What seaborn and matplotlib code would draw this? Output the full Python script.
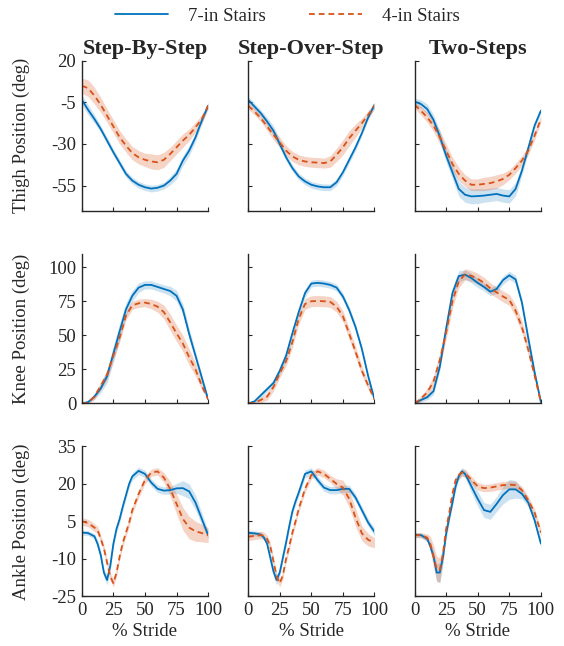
import numpy as np
import pandas as pd
import matplotlib
matplotlib.use("Agg")
import matplotlib.pyplot as plt
import seaborn as sns

# % stride sample points
stride = list(range(0, 101, 5))
stride_ankle = [0, 5, 10, 12.5, 15, 17.5, 20, 22.5, 25, 27.5, 30, 32.5, 35, 37.5, 40,
                45, 50, 55, 60, 65, 70, 75, 80, 85, 90, 95, 100]

conditions = ["Step-By-Step", "Step-Over-Step", "Two-Steps"]
joints = ["Thigh Position (deg)", "Knee Position (deg)", "Ankle Position (deg)"]
stairs = ["7-in Stairs", "4-in Stairs"]

# thigh (mean / band half-width)
thigh_sbs_7 = [-3.5, -9.5, -15, -21, -28, -35, -41.5, -48, -52, -54.5, -56, -56.8, -56.3, -55, -52, -48, -40, -34, -26, -16, -7]
thigh_sbs_7_sd = [3, 3, 2.5, 2, 2, 2, 2, 2, 2, 2, 2, 2, 2, 2, 2.5, 3, 3, 3, 2.5, 2, 1.5]
thigh_sbs_4 = [5, 3.5, -1, -6.5, -13, -19.5, -26, -31, -35.5, -38, -39.5, -40.5, -41, -39.5, -36, -32, -28, -24.5, -20, -15, -7]
thigh_sbs_4_sd = [4.5, 5, 5, 4.5, 4, 4, 4, 4, 4, 4, 4, 4.5, 4.5, 4.5, 4, 4, 4, 3.5, 3, 2.5, 2]
thigh_sos_7 = [-3.5, -7.5, -11.5, -16.5, -22, -30, -38, -44.5, -49.5, -52.5, -54.5, -55.5, -56, -56, -53, -47, -39.5, -32, -23.5, -14, -6.5]
thigh_sos_7_sd = [2, 2, 2, 2.5, 3, 2.5, 2, 2, 2, 2, 2, 2, 2, 2, 2, 2, 2, 2, 1.5, 1.5, 1.5]
thigh_sos_4 = [-7, -10.5, -14.5, -19.5, -24.5, -29, -34, -37.5, -39.5, -40.5, -41, -41.2, -41.5, -40.5, -36.5, -32, -26.5, -22, -17.5, -12.5, -7]
thigh_sos_4_sd = [2, 2, 2, 2.5, 3, 3, 3, 3, 3, 3, 3, 3, 3, 3.5, 4, 4.5, 4.5, 4, 3, 2.5, 2]
thigh_ts_7 = [-4.5, -6, -9, -15.5, -25.5, -37, -47, -57, -60.5, -61.5, -61.3, -61, -60.5, -60, -61, -61.5, -57, -46, -32.5, -19, -10]
thigh_ts_7_sd = [2, 2.5, 3, 3, 3.5, 4, 4, 4.5, 4.5, 4.5, 4.5, 4, 4, 4, 4, 4, 4, 3, 2.5, 2, 1.5]
thigh_ts_4 = [-6.5, -10, -14, -19, -26, -34, -42, -48, -52, -54.5, -54.5, -54, -53.5, -52.5, -51, -48.5, -44.5, -40, -34, -25, -15]
thigh_ts_4_sd = [2, 2.5, 3, 3.5, 4, 4, 4, 4, 3.5, 3.5, 3.5, 4, 4, 4, 3.5, 3, 3, 3, 2.5, 2.5, 2]

# knee
knee_sbs_7 = [0, 1, 5, 11, 20, 36.5, 53, 69, 79, 85, 87, 87, 85.5, 84, 82.5, 79, 69, 51, 35, 19, 3]
knee_sbs_7_sd = [0.5, 1, 2, 3, 5, 6, 6, 5, 4, 3.5, 3, 3, 3, 3, 3.5, 4, 4, 4, 3, 2, 1]
knee_sbs_4 = [0, 0.5, 5, 13, 21, 35, 48.5, 64.5, 72, 73.5, 74, 73, 71, 67, 59.5, 51.5, 44, 34, 25, 13, 3]
knee_sbs_4_sd = [0.5, 1, 2, 3, 3.5, 3.5, 3.5, 3, 3, 3, 3, 3.5, 4, 5, 6, 6, 6, 6, 5, 3, 1]
knee_sos_7 = [0, 1.5, 6, 10.5, 15, 24, 35, 51.5, 67, 81, 88, 88.5, 88, 87, 85, 78.5, 68.5, 56, 40, 20, 3]
knee_sos_7_sd = [0.5, 1, 2, 2, 2, 2.5, 3, 3, 3, 3, 2.5, 2.5, 2.5, 2.5, 2.5, 2.5, 2.5, 2.5, 2, 1.5, 1]
knee_sos_4 = [0, 0.5, 2.5, 5, 12, 22, 31, 45, 62, 73, 75, 75.2, 75, 74.5, 71, 64, 51, 38, 24, 13, 3]
knee_sos_4_sd = [0.5, 1, 2, 2.5, 3, 3, 3.5, 4, 4, 4, 4, 4, 4, 4, 4, 4, 4, 4, 3.5, 2.5, 1]
knee_ts_7 = [0, 2.5, 4.5, 9, 27, 55, 81, 93.5, 94.5, 92, 88.5, 85.5, 82, 84, 90.5, 94, 91, 74, 48, 23, 1]
knee_ts_7_sd = [0.5, 1.5, 2, 2.5, 3, 3, 3.5, 4, 3.5, 3.5, 3.5, 3, 3, 3, 3, 3, 3, 3, 2.5, 2, 1]
knee_ts_4 = [0, 3.5, 8, 16, 32, 52, 75, 89.5, 94.8, 93.6, 91.5, 88.5, 84.5, 81.5, 78.5, 76, 68, 56, 39.5, 20.5, 1]
knee_ts_4_sd = [1, 2, 3, 4, 5, 5, 5, 4.5, 4, 4, 4, 4, 4, 4, 4, 4, 4.5, 4.5, 4, 3, 1]

# ankle
ankle_sbs_7 = [0.5, 0.3, -1, -4, -8.5, -15.5, -18.5, -13, -4, 2, 6, 11, 15.5, 20, 23, 25.2, 24, 20.5, 18, 17.3, 17.5, 18.2, 18.3, 17, 12.5, 6, -0.5]
ankle_sbs_7_sd = [1, 1, 1, 1.5, 1.5, 1.5, 2, 2, 1.5, 1.5, 1.5, 1.5, 1.5, 1.5, 1.5, 1.5, 1.5, 1.5, 1.5, 1.5, 1.5, 2, 3, 3, 3, 2.5, 1.5]
ankle_sbs_4 = [5, 4.3, 2.5, 1.5, -2, -5.8, -11.5, -17, -19.8, -15.5, -9, -3.5, 0.5, 4.5, 9.5, 16, 21.5, 24.5, 25, 22.5, 18, 12, 6, 2.5, 1, 0.3, -0.5]
ankle_sbs_4_sd = [1.5, 1.5, 1.5, 1.5, 1.5, 1.5, 1.5, 1.5, 1.5, 1.5, 1.5, 1.5, 1.5, 1.5, 1.5, 1.5, 1.5, 1.5, 1.5, 2, 3, 4, 4.5, 4.5, 4, 3.5, 3]
ankle_sos_7 = [0.4, 0.2, -0.3, -1.5, -4, -9.5, -15, -18.5, -15.5, -9.5, -3.5, 3, 9, 13, 16.5, 24, 25, 21.5, 18.5, 17.5, 17.5, 18, 18, 14.5, 9.5, 4.5, 0.8]
ankle_sos_7_sd = [1, 1, 1, 1, 1, 1.5, 2, 2, 1.5, 1.5, 1.5, 1.5, 1.5, 1.5, 1.5, 1.5, 1.5, 1.5, 1.5, 1.5, 1.5, 1.5, 1.5, 1.5, 1.5, 1.5, 1.5]
ankle_sos_4 = [-1.2, -0.8, -0.5, -0.8, -2, -5, -11, -17, -19.8, -16.5, -10, -5, 0.5, 5, 10, 18, 23.5, 25, 24, 22, 20, 18.5, 14, 6.5, 0.2, -2.4, -3.6]
ankle_sos_4_sd = [1.5, 1.5, 1.5, 1.5, 1.5, 1.5, 1.5, 1.5, 1.5, 1.5, 1.5, 1.5, 1.5, 1.5, 1.5, 1.5, 1.5, 1.5, 1.5, 1.5, 2, 3, 3.5, 3.5, 3, 2.5, 2]
ankle_ts_7 = [-0.5, -0.5, -2, -5, -9, -15.5, -15.5, -9.3, 0, 6.5, 12.5, 19, 23, 25, 24, 19, 14, 9.5, 8.8, 12, 15.5, 17.8, 17.8, 16, 12.5, 5.5, -3.9]
ankle_ts_7_sd = [1, 1, 1, 1.5, 2.5, 3.5, 4, 3, 2, 2, 1.5, 1.5, 1.5, 1.5, 1.5, 2.5, 3, 3, 3, 3, 3.5, 4, 3.5, 2, 1.5, 1.5, 1.5]
ankle_ts_4 = [-0.5, -0.6, -1.5, -4, -9, -14, -14.5, -8, 2, 8.5, 16, 21.5, 23.5, 24.5, 24.3, 21.6, 19, 18.3, 18.5, 19, 19.5, 19.7, 19.5, 17.5, 13.5, 8.5, 0.5]
ankle_ts_4_sd = [1, 1, 1.5, 3, 4.5, 5, 5, 3, 2, 2, 2, 1.5, 1.5, 1.5, 1.5, 1.5, 1.5, 1.5, 1.5, 1.5, 1.5, 1.5, 1.5, 1.5, 1.5, 1.5, 1.5]

thigh_ticks = [20, -5, -30, -55]
knee_ticks = [0, 25, 50, 75, 100]
ankle_ticks = [35, 20, 5, -10, -25]
stride_ticks = [0, 25, 50, 75, 100]

rows = [
    (stride, [(thigh_sbs_7, thigh_sbs_7_sd, thigh_sbs_4, thigh_sbs_4_sd),
              (thigh_sos_7, thigh_sos_7_sd, thigh_sos_4, thigh_sos_4_sd),
              (thigh_ts_7, thigh_ts_7_sd, thigh_ts_4, thigh_ts_4_sd)], thigh_ticks, (-70, 20)),
    (stride, [(knee_sbs_7, knee_sbs_7_sd, knee_sbs_4, knee_sbs_4_sd),
              (knee_sos_7, knee_sos_7_sd, knee_sos_4, knee_sos_4_sd),
              (knee_ts_7, knee_ts_7_sd, knee_ts_4, knee_ts_4_sd)], knee_ticks, (0, 110)),
    (stride_ankle, [(ankle_sbs_7, ankle_sbs_7_sd, ankle_sbs_4, ankle_sbs_4_sd),
                    (ankle_sos_7, ankle_sos_7_sd, ankle_sos_4, ankle_sos_4_sd),
                    (ankle_ts_7, ankle_ts_7_sd, ankle_ts_4, ankle_ts_4_sd)], ankle_ticks, (-25, 35)),
]

sns.set_style("ticks")
plt.rcParams['font.family'] = ['Liberation Serif', 'DejaVu Serif']
plt.rcParams['axes.unicode_minus'] = False
plt.rcParams['xtick.direction'] = 'in'
plt.rcParams['ytick.direction'] = 'in'

blue = "#0072BD"
orange = "#D95319"
fs = 13.5

fig, axes = plt.subplots(3, 3, figsize=(5.64, 6.46), dpi=100)
fig.subplots_adjust(left=0.145, right=0.959, top=0.906, bottom=0.077, wspace=0.317, hspace=0.287)

for r, (x, panel_data, yticks, ylim) in enumerate(rows):
    for c, (m7, s7, m4, s4) in enumerate(panel_data):
        ax = axes[r, c]
        m7, s7, m4, s4 = map(np.array, (m7, s7, m4, s4))
        ax.fill_between(x, m7 - s7, m7 + s7, color=blue, alpha=0.2, lw=0)
        ax.fill_between(x, m4 - s4, m4 + s4, color=orange, alpha=0.25, lw=0)
        df = pd.DataFrame({"stride": list(x) * 2,
                           "angle": list(m7) + list(m4),
                           "stairs": [stairs[0]] * len(x) + [stairs[1]] * len(x)})
        sns.lineplot(data=df, x="stride", y="angle", hue="stairs", style="stairs",
                     palette=[blue, orange], dashes=[(None, None), (3.2, 2.2)],
                     lw=1.3, ax=ax, legend=False, errorbar=None)
        ax.set_xlim(0, 100)
        ax.set_ylim(*ylim)
        ax.set_xticks(stride_ticks)
        ax.set_yticks(yticks)
        sns.despine(ax=ax)
        for s in ("left", "bottom"):
            ax.spines[s].set_color("#262626")
            ax.spines[s].set_linewidth(1.0)
        ax.tick_params(length=3, width=0.8, color="#262626", labelsize=fs,
                       labelcolor="#262626", pad=4)
        ax.set_xlabel("% Stride" if r == 2 else "", fontsize=fs, color="#262626", labelpad=3)
        if c == 0:
            ax.set_ylabel(joints[r], fontsize=fs, color="#262626")
            ax.yaxis.set_label_coords(-0.41, 0.5)
        else:
            ax.set_ylabel("")
            ax.tick_params(labelleft=False)
        if r < 2:
            ax.tick_params(labelbottom=False)
        if r == 0:
            ax.set_title(conditions[c], fontsize=16, fontweight="bold", pad=5)

h = axes[0, 0].get_lines()
fig.legend(h[:2], stairs, loc="center", bbox_to_anchor=(0.51, 0.975), ncol=2,
           frameon=False, fontsize=fs, handlelength=2.8, handletextpad=1.1,
           columnspacing=2.3)

fig.savefig("out.png", dpi=100)
